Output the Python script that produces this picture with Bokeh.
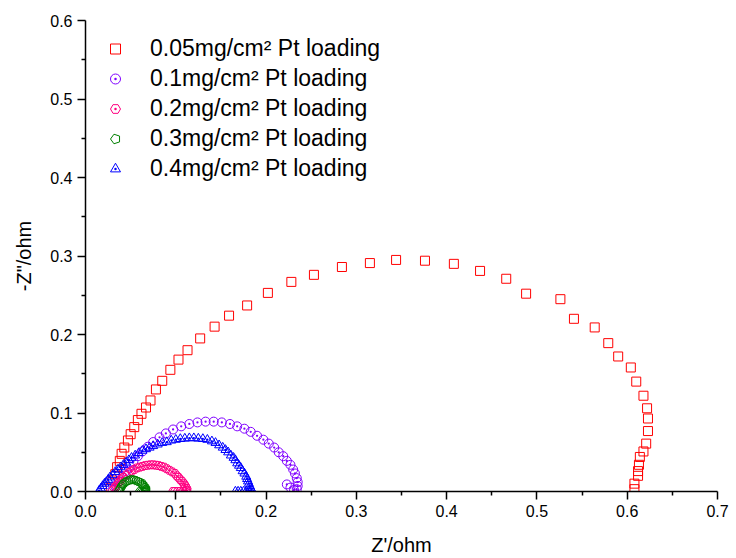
import math
from bokeh.plotting import figure
from bokeh.models import Range1d, FixedTicker, Legend, LegendItem, PrintfTickFormatter
from bokeh.embed import file_html
from bokeh.resources import INLINE

# ---------------- data ----------------
series_labels = [
    "0.05mg/cm\u00b2 Pt loading",
    "0.1mg/cm\u00b2 Pt loading",
    "0.2mg/cm\u00b2 Pt loading",
    "0.3mg/cm\u00b2 Pt loading",
    "0.4mg/cm\u00b2 Pt loading",
]

x_005 = [0.028, 0.030, 0.033, 0.035, 0.038, 0.040, 0.043, 0.047, 0.050, 0.054, 0.058, 0.062,
         0.067, 0.072, 0.078, 0.085, 0.094, 0.103, 0.113, 0.127, 0.143, 0.159, 0.179, 0.202,
         0.228, 0.253, 0.284, 0.315, 0.344, 0.376, 0.408, 0.437, 0.466, 0.488, 0.526, 0.541,
         0.564, 0.579, 0.590, 0.604, 0.610, 0.618, 0.622, 0.623, 0.623, 0.621, 0.618, 0.614,
         0.613, 0.612, 0.612, 0.608, 0.608]
y_005 = [0.005, 0.014, 0.022, 0.031, 0.039, 0.048, 0.056, 0.065, 0.073, 0.082, 0.091, 0.099,
         0.107, 0.116, 0.130, 0.141, 0.155, 0.168, 0.180, 0.195, 0.210, 0.224, 0.237, 0.253,
         0.267, 0.276, 0.286, 0.291, 0.295, 0.294, 0.290, 0.281, 0.271, 0.252, 0.245, 0.220,
         0.209, 0.189, 0.172, 0.158, 0.140, 0.122, 0.106, 0.093, 0.077, 0.061, 0.051, 0.044,
         0.034, 0.026, 0.020, 0.010, 0.003]

x_01 = [0.030, 0.033, 0.037, 0.041, 0.045, 0.049, 0.053, 0.058, 0.063, 0.069, 0.075, 0.082,
        0.089, 0.097, 0.106, 0.115, 0.124, 0.133, 0.142, 0.151, 0.160, 0.168, 0.176, 0.183,
        0.190, 0.197, 0.203, 0.209, 0.214, 0.219, 0.223, 0.227, 0.230, 0.232, 0.234, 0.235,
        0.235, 0.234, 0.231, 0.227, 0.223]
y_01 = [0.002, 0.007, 0.013, 0.019, 0.026, 0.032, 0.038, 0.045, 0.051, 0.057, 0.063, 0.069,
        0.074, 0.079, 0.083, 0.086, 0.088, 0.089, 0.089, 0.088, 0.086, 0.083, 0.080, 0.076,
        0.071, 0.066, 0.061, 0.056, 0.050, 0.045, 0.039, 0.034, 0.028, 0.023, 0.017, 0.012,
        0.007, 0.003, 0.002, 0.005, 0.009]

x_02 = [0.030, 0.032, 0.034, 0.036, 0.038, 0.040, 0.042, 0.045, 0.048, 0.051, 0.054, 0.057,
        0.060, 0.063, 0.066, 0.069, 0.072, 0.075, 0.078, 0.081, 0.084, 0.087, 0.090, 0.093,
        0.096, 0.099, 0.101, 0.103, 0.105, 0.107, 0.109, 0.110, 0.111, 0.112, 0.112, 0.111,
        0.108, 0.105, 0.102, 0.099, 0.097]
y_02 = [0.001, 0.004, 0.007, 0.010, 0.013, 0.016, 0.018, 0.021, 0.024, 0.026, 0.028, 0.030,
        0.031, 0.032, 0.033, 0.0335, 0.034, 0.034, 0.0335, 0.033, 0.032, 0.031, 0.029, 0.027,
        0.025, 0.023, 0.020, 0.018, 0.015, 0.013, 0.010, 0.008, 0.006, 0.004, 0.002, 0.001,
        0.000, 0.000, 0.000, 0.000, 0.000]

x_03 = [0.037, 0.038, 0.039, 0.040, 0.041, 0.042, 0.044, 0.046, 0.048, 0.050, 0.052, 0.054,
        0.056, 0.058, 0.060, 0.062, 0.063, 0.064, 0.065, 0.066, 0.067, 0.067, 0.067, 0.066,
        0.064, 0.062, 0.060]
y_03 = [0.001, 0.003, 0.005, 0.007, 0.009, 0.010, 0.012, 0.013, 0.014, 0.015, 0.015, 0.015,
        0.014, 0.013, 0.012, 0.011, 0.009, 0.008, 0.006, 0.005, 0.003, 0.002, 0.001, 0.000,
        0.000, 0.000, 0.000]

x_04 = [0.015, 0.017, 0.019, 0.021, 0.023, 0.025, 0.027, 0.030, 0.033, 0.036, 0.039, 0.042,
        0.045, 0.048, 0.051, 0.055, 0.059, 0.063, 0.067, 0.071, 0.075, 0.080, 0.085, 0.090,
        0.095, 0.100, 0.105, 0.110, 0.115, 0.120, 0.125, 0.130, 0.135, 0.140, 0.144, 0.148,
        0.152, 0.155, 0.158, 0.161, 0.164, 0.166, 0.168, 0.170, 0.172, 0.174, 0.176, 0.178,
        0.179, 0.180, 0.181, 0.182, 0.183, 0.184, 0.183, 0.181, 0.178, 0.175, 0.172, 0.169,
        0.166]
y_04 = [0.001, 0.004, 0.007, 0.010, 0.012, 0.015, 0.018, 0.021, 0.025, 0.028, 0.031, 0.034,
        0.037, 0.040, 0.043, 0.046, 0.049, 0.052, 0.054, 0.056, 0.058, 0.060, 0.062, 0.063,
        0.065, 0.066, 0.067, 0.0675, 0.068, 0.068, 0.0675, 0.067, 0.066, 0.064, 0.062, 0.059,
        0.056, 0.053, 0.050, 0.046, 0.043, 0.040, 0.036, 0.033, 0.030, 0.026, 0.023, 0.019,
        0.016, 0.013, 0.010, 0.007, 0.004, 0.002, 0.001, 0.001, 0.000, 0.000, 0.000, 0.000,
        0.000]

x_ticks = [0.0, 0.1, 0.2, 0.3, 0.4, 0.5, 0.6, 0.7]
y_ticks = [0.0, 0.1, 0.2, 0.3, 0.4, 0.5, 0.6]
x_minor = [0.05, 0.15, 0.25, 0.35, 0.45, 0.55, 0.65]
y_minor = [0.05, 0.15, 0.25, 0.35, 0.45, 0.55]

colors = ["#FF0000", "#8000FF", "#FF0080", "#008000", "#0000FF"]

FONT = "Liberation Sans"

p = figure(width=736, height=558, output_backend="svg", toolbar_location=None,
           x_range=Range1d(0, 0.7), y_range=Range1d(0, 0.6),
           min_border_left=85, min_border_right=19, min_border_top=20, min_border_bottom=67,
           background_fill_color="white", border_fill_color="white")
p.grid.visible = False
p.outline_line_color = None

r1 = p.scatter(x_005, y_005, marker="square", size=9, fill_color=None,
               line_color=colors[0], line_width=1)
r2 = p.scatter(x_01, y_01, marker="circle_dot", size=9, fill_color=None,
               line_color=colors[1], line_width=1)
r5 = p.scatter(x_04, y_04, marker="triangle_dot", size=9, fill_color=None,
               line_color=colors[4], line_width=1)
r3 = p.scatter(x_02, y_02, marker="hex_dot", size=9, fill_color=None,
               line_color=colors[2], line_width=1)
r4 = p.ngon(x=x_03, y=y_03, radius=4.5, radius_units="screen", n=5, angle=math.pi / 2,
            fill_color=None, line_color=colors[3], line_width=1)

legend = Legend(items=[
    LegendItem(label=series_labels[0], renderers=[r1]),
    LegendItem(label=series_labels[1], renderers=[r2]),
    LegendItem(label=series_labels[2], renderers=[r3]),
    LegendItem(label=series_labels[3], renderers=[r4]),
    LegendItem(label=series_labels[4], renderers=[r5]),
], location="top_left")
legend.margin = 15
legend.padding = 0
legend.glyph_width = 30
legend.glyph_height = 25
legend.label_height = 25
legend.spacing = 3
legend.label_standoff = 20
legend.label_text_font = FONT
legend.label_text_font_size = "23px"
legend.label_text_color = "black"
legend.border_line_color = None
legend.background_fill_alpha = 0
p.add_layout(legend)

for ax in (p.xaxis, p.yaxis):
    ax.axis_line_width = 1.5
    ax.axis_line_color = "black"
    ax.major_tick_line_width = 1.5
    ax.minor_tick_line_width = 1.5
    ax.major_tick_in = 0
    ax.major_tick_out = 8
    ax.minor_tick_in = 0
    ax.minor_tick_out = 4
    ax.major_label_text_font = FONT
    ax.major_label_text_font_size = "16px"
    ax.major_label_text_color = "black"
    ax.axis_label_text_font = FONT
    ax.axis_label_text_font_size = "20px"
    ax.axis_label_text_font_style = "normal"
    ax.axis_label_text_color = "black"
    ax.formatter = PrintfTickFormatter(format="%.1f")

p.xaxis.ticker = FixedTicker(ticks=x_ticks, minor_ticks=x_minor)
p.yaxis.ticker = FixedTicker(ticks=y_ticks, minor_ticks=y_minor)
p.xaxis.axis_label = "Z'/ohm"
p.yaxis.axis_label = '-Z"/ohm'
p.xaxis.major_label_standoff = 5
p.yaxis.major_label_standoff = 5
p.xaxis.axis_label_standoff = 14
p.yaxis.axis_label_standoff = 12

open("out.html", "w").write(file_html(p, INLINE))
